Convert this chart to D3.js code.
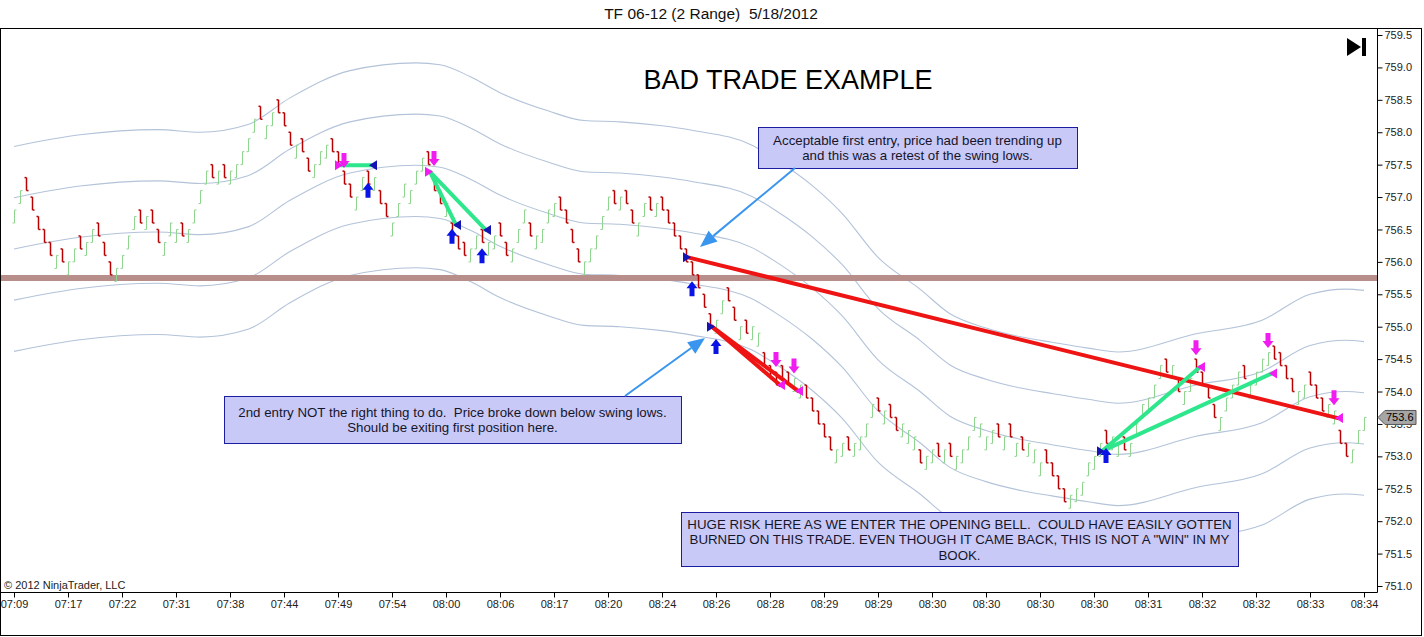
<!DOCTYPE html>
<html><head><meta charset="utf-8">
<script src="https://cdn.jsdelivr.net/npm/d3@7/dist/d3.min.js"></script>
<style>
body{margin:0;background:#fff;}
svg{display:block;font-family:"Liberation Sans",Arial,sans-serif;}
</style>
</head><body>
<svg id="chart" width="1424" height="637"></svg>
<script>
// ---------------- DATA ----------------
const chartTitle = "TF 06-12 (2 Range)  5/18/2012";
const mainTitle = "BAD TRADE EXAMPLE";
const timeLabels = ["07:09","07:17","07:22","07:31","07:38","07:44","07:49","07:54","08:00","08:06","08:17","08:20","08:24","08:26","08:28","08:29","08:29","08:30","08:30","08:30","08:30","08:31","08:32","08:32","08:33","08:34"];
const timeTickBars = [0,9,18,27,36,45,54,63,72,81,90,99,108,117,126,135,144,153,162,171,180,189,198,207,216,225];
const priceTicks = [751.0,751.5,752.0,752.5,753.0,753.5,754.0,754.5,755.0,755.5,756.0,756.5,757.0,757.5,758.0,758.5,759.0,759.5];
const barRange = 0.2; // 2-tick range bars
const barHigh = [
756.8,757.1,757.3,757.0,756.7,756.5,756.3,756.1,756.2,756.0,
756.2,756.4,756.3,756.5,756.6,756.3,756.0,755.9,756.1,756.4,
756.7,756.8,756.7,756.8,756.5,756.3,756.6,756.5,756.6,756.5,
756.8,757.1,757.4,757.5,757.4,757.5,757.4,757.5,757.7,757.9,
758.2,758.4,758.1,758.3,758.5,758.3,758.0,757.8,757.9,757.6,
757.5,757.7,757.8,757.9,757.7,757.4,757.2,757.0,
757.3,757.4,757.3,757.1,756.9,756.6,756.9,757.2,757.1,757.4,
757.6,757.7,757.3,757.1,756.9,756.6,756.4,756.3,756.2,756.4,
756.5,756.3,756.4,756.6,756.3,756.2,756.5,756.8,756.6,756.4,
756.5,756.8,756.9,757.0,756.8,756.5,756.2,756.0,756.2,756.4,
756.7,757.0,757.1,
757.0,757.1,756.8,756.6,756.9,757.0,756.9,757.0,756.8,756.6,
756.4,756.2,756.0,755.8,755.5,755.2,755.1,755.4,755.6,755.3,
755.0,755.1,755.0,754.9,754.6,754.4,754.3,754.4,754.3,754.2,
754.1,754.1,753.9,753.7,753.5,753.3,753.1,753.2,753.3,753.2,
753.3,753.5,753.8,753.9,
753.7,753.8,753.6,753.5,753.4,753.3,753.1,753.0,753.1,753.2,
753.1,753.2,753.0,753.1,753.3,753.6,753.5,753.3,753.4,753.5,
753.3,753.5,753.2,753.3,753.2,753.1,752.9,753.1,752.9,752.7,
752.5,752.4,752.5,752.6,752.9,753.0,753.2,753.4,753.3,753.2,
753.3,753.2,
753.5,753.8,753.9,754.1,754.4,754.5,754.4,754.2,754.0,754.2,
754.5,754.3,754.1,753.8,753.6,753.9,754.1,754.3,754.4,754.1,
754.3,754.5,754.6,754.7,754.6,754.4,754.2,754.0,754.1,754.3,
754.1,753.9,753.8,753.7,753.4,753.2,753.1,753.4,753.6];
const barDir = (
"GGRRRRRGRG"+"GRGGRRRGGG"+"GRGRRGGGRG"+"GGGRGRGGGG"+"GRGGRRRGRR"+"GGGRRRRG"+
"GRGRRGGGGG"+"GRRRGRRRGG"+"RGGRRGGGRG"+"GGGRRRRGGG"+"GGR"+
"GRRGGRGRRR"+"RRRRRRGGRR"+"GRGGRRRRRG"+"GRRRRRGGRG"+"GGGR"+
"GRRGGGRGGR"+"GRGGGGGGGR"+"GRGRGGGRRR"+"RGGGGGGRGG"+"RG"+
"GGGGGRGRGG"+"RRRRGGGGRG"+"GGGRRRRGGR"+"RRGGRRGGG").split("");

// Keltner-style channel: middle line, constant band offsets
const midBar   = [0,11,24,31,39,46,56,67,71,76,81,89,95,101,108,113,123,127,133,138,144,151,156,162,168,173,179,184,197,208,216,222,225];
const midPrice = [756.20,756.38,756.46,756.42,756.54,756.95,757.37,757.49,757.46,757.28,757.03,756.75,756.60,756.58,756.52,756.45,756.22,756.00,755.60,755.17,754.49,754.00,753.62,753.40,753.26,753.18,753.09,753.03,753.31,753.52,753.92,754.00,753.98];
const bandOffsets = [-1.58,-0.79,0,0.79,1.58];

const levelPrice = [755.75];

// executions: SE short entry, SX short exit, LE long entry, LX long exit
const execBar   = [55,59,70,73,78,113,117,127,130,182,197,209,220];
const execPrice = [757.49,757.49,757.39,756.57,756.49,756.07,755.00,754.10,754.01,753.08,754.38,754.28,753.59];
const execType  = ["SE","SX","SE","SX","SX","LE","LE","LX","LX","LE","LX","LX","LX"];
const tradeFrom = [0,2,2,5,6,6,9,9];
const tradeTo   = [1,3,4,12,7,8,10,11];
const tradeWin  = [true,true,true,false,false,false,true,true];

const sellArrowBar = [55,70,127,130,197,209,220];
const sellArrowTip = [757.45,757.48,754.38,754.28,754.56,754.67,753.79];
const buyArrowBar  = [59,73,78,113,117,182];
const buyArrowTip  = [757.22,756.51,756.21,755.70,754.81,753.13];

const lastPrice = 753.6;

const notes = [
  {lines:["Acceptable first entry, price had been trending up","and this was a retest of the swing lows."], box:[758,127,1077,168]},
  {lines:["2nd entry NOT the right thing to do.  Price broke down below swing lows.","Should be exiting first position here."], box:[224,396,681,443]},
  {lines:["HUGE RISK HERE AS WE ENTER THE OPENING BELL.  COULD HAVE EASILY GOTTEN","BURNED ON THIS TRADE. EVEN THOUGH IT CAME BACK, THIS IS NOT A \"WIN\" IN MY","BOOK."], box:[681,512,1238,566]}
];
const noteArrows = [[795,168,700,247],[625,396,705,338]];

// ---------------- DRAW ----------------
const svg = d3.select("#chart");
const PL = 0, PR = 1377, PT = 28, PB = 592;
const x = d3.scaleLinear().domain([0,225]).range([14,1364]);
const y = d3.scaleLinear().domain([751,759.5]).range([586,35]);

svg.append("rect").attr("x",0).attr("y",0).attr("width",1424).attr("height",637).attr("fill","#fff");

const clipId = "plotclip";
svg.append("clipPath").attr("id",clipId).append("rect").attr("x",PL).attr("y",PT).attr("width",PR-PL).attr("height",PB-PT);
const plot = svg.append("g").attr("clip-path",`url(#${clipId})`);

// bands
const midLine = d3.line().x(d=>x(d[0])).y(d=>y(d[1])).curve(d3.curveMonotoneX);
bandOffsets.forEach(off=>{
  plot.append("path")
    .attr("d", midLine(midBar.map((b,i)=>[b, midPrice[i]+off])))
    .attr("fill","none").attr("stroke","#b3c3d9").attr("stroke-width",1.1);
});

// horizontal level
levelPrice.forEach(p=>{
  plot.append("line").attr("x1",PL).attr("x2",PR).attr("y1",y(p)).attr("y2",y(p))
    .attr("stroke","#b88e8a").attr("stroke-width",6);
});

// bars
const bars = plot.append("g");
barHigh.forEach((hi,i)=>{
  const lo = hi - barRange;
  const up = barDir[i]==="G";
  const open = up?lo:hi, close = up?hi:lo;
  const cx = Math.round(x(i))+0.5;
  const col = up?"#8fd48f":"#b80000";
  const sw = up?1:1.5;
  const g = bars.append("g").attr("stroke",col).attr("stroke-width",sw);
  g.append("line").attr("x1",cx).attr("x2",cx).attr("y1",y(hi)).attr("y2",y(lo));
  g.append("line").attr("x1",cx-2).attr("x2",cx).attr("y1",y(open)).attr("y2",y(open));
  g.append("line").attr("x1",cx).attr("x2",cx+2).attr("y1",y(close)).attr("y2",y(close));
});

// trade lines
function execX(k){ const t=execType[k]; return x(execBar[k]) + ((t==="SE"||t==="LE")?-4:4); }
tradeFrom.forEach((f,i)=>{
  const t = tradeTo[i];
  plot.append("line").attr("x1",execX(f)).attr("y1",y(execPrice[f]))
    .attr("x2",execX(t)).attr("y2",y(execPrice[t]))
    .attr("stroke", tradeWin[i]?"#2ee68c":"#ee1414").attr("stroke-width",4).attr("stroke-linecap","round");
});

// execution triangles
execBar.forEach((b,k)=>{
  const t = execType[k];
  const bx = x(b), py = y(execPrice[k]);
  const isEntry = (t==="SE"||t==="LE");
  const col = (t==="SE"||t==="LX")?"#f01cf0":"#1414b4";
  const pts = isEntry ? [[bx-9,py-5],[bx-9,py+5],[bx-1,py]] : [[bx+9,py-5],[bx+9,py+5],[bx+1,py]];
  plot.append("polygon").attr("points",pts.map(p=>p.join(",")).join(" ")).attr("fill",col);
});

// execution arrows
function blockArrow(cx, tipY, dir){ // dir -1: tip at top (up arrow), 1: tip at bottom (down)
  const s = -dir;
  const pts = [[0,0],[-5.5,7],[-2.5,7],[-2.5,15],[2.5,15],[2.5,7],[5.5,7]].map(p=>[cx+p[0], tipY + s*p[1]]);
  return pts.map(p=>p.join(",")).join(" ");
}
sellArrowBar.forEach((b,i)=>{
  plot.append("polygon").attr("points",blockArrow(x(b), y(sellArrowTip[i]), 1)).attr("fill","#f01cf0");
});
buyArrowBar.forEach((b,i)=>{
  plot.append("polygon").attr("points",blockArrow(x(b), y(buyArrowTip[i]), -1)).attr("fill","#0a14e6");
});

// note boxes
notes.forEach(n=>{
  const [x1,y1,x2,y2] = n.box;
  svg.append("rect").attr("x",x1+0.5).attr("y",y1+0.5).attr("width",x2-x1).attr("height",y2-y1)
    .attr("fill","#c9c9f7").attr("stroke","#1c1ca0").attr("stroke-width",1);
  const cx = (x1+x2)/2, cy = (y1+y2)/2;
  const lh = 15.5, nL = n.lines.length;
  n.lines.forEach((ln,j)=>{
    svg.append("text").attr("x",cx).attr("y",cy + (j-(nL-1)/2)*lh + 5).attr("text-anchor","middle")
      .attr("font-size",13.3).attr("fill","#15152a").style("white-space","pre").text(ln);
  });
});

// note arrows
noteArrows.forEach(a=>{
  const [x1,y1,x2,y2] = a;
  const ang = Math.atan2(y2-y1,x2-x1);
  const L = 17, W = 7;
  const bx = x2 - L*Math.cos(ang), by = y2 - L*Math.sin(ang);
  svg.append("line").attr("x1",x1).attr("y1",y1).attr("x2",bx).attr("y2",by)
    .attr("stroke","#3a95ee").attr("stroke-width",2);
  const p1 = [bx + W*Math.sin(ang), by - W*Math.cos(ang)];
  const p2 = [bx - W*Math.sin(ang), by + W*Math.cos(ang)];
  svg.append("polygon").attr("points",[[x2,y2],p1,p2].map(p=>p.join(",")).join(" ")).attr("fill","#3a95ee");
});

// titles
svg.append("text").attr("x",711).attr("y",19).attr("text-anchor","middle").attr("font-size",15.5)
  .attr("fill","#111").style("white-space","pre").text(chartTitle);
svg.append("text").attr("x",788).attr("y",89).attr("text-anchor","middle").attr("font-size",27)
  .attr("fill","#000").text(mainTitle);
svg.append("text").attr("x",4).attr("y",589).attr("font-size",11).attr("fill","#222").text("\u00a9 2012 NinjaTrader, LLC");

// scroll-to-end icon
svg.append("polygon").attr("points","1347,38 1347,56 1361,47").attr("fill","#000");
svg.append("rect").attr("x",1362).attr("y",38).attr("width",4).attr("height",18).attr("fill","#000");

// frame
svg.append("rect").attr("x",0.5).attr("y",PT+0.5).attr("width",1421).attr("height",635-PT)
  .attr("fill","none").attr("stroke","#000").attr("stroke-width",1);
svg.append("line").attr("x1",PR+0.5).attr("x2",PR+0.5).attr("y1",PT).attr("y2",PB+0.5).attr("stroke","#000");
svg.append("line").attr("x1",0).attr("x2",PR+0.5).attr("y1",PB+0.5).attr("y2",PB+0.5).attr("stroke","#000");

// axes
const xAxis = d3.axisBottom(x).tickValues(timeTickBars).tickFormat((d,i)=>timeLabels[i]).tickSize(5).tickPadding(3);
const gx = svg.append("g").attr("transform",`translate(0,${PB+0.5})`).call(xAxis);
gx.select(".domain").remove();
gx.selectAll("text").attr("font-size",11).attr("fill","#222").attr("font-family","Liberation Sans, Arial, sans-serif");

const yAxis = d3.axisRight(y).tickValues(priceTicks).tickFormat(d3.format(".1f")).tickSize(5).tickPadding(2);
const gy = svg.append("g").attr("transform",`translate(${PR+0.5},0)`).call(yAxis);
gy.select(".domain").remove();
gy.selectAll("text").attr("font-size",11).attr("fill","#222").attr("font-family","Liberation Sans, Arial, sans-serif");

// last price marker
const ly = y(lastPrice);
svg.append("polygon").attr("points",`${PR+1},${ly} ${PR+8},${ly-7} ${PR+39},${ly-7} ${PR+39},${ly+7} ${PR+8},${ly+7}`)
  .attr("fill","#a6a6a6").attr("stroke","#555").attr("stroke-width",1);
svg.append("text").attr("x",PR+9).attr("y",ly+4).attr("font-size",11).attr("fill","#000").text(lastPrice.toFixed(1));
</script>
</body></html>
